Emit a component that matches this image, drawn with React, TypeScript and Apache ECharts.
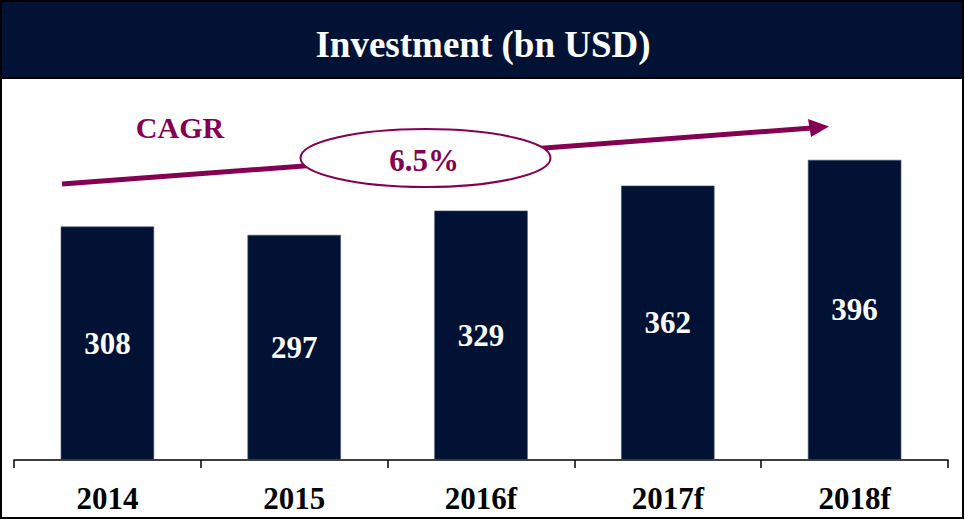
import React, { useEffect, useRef } from "react";
import * as echarts from "echarts";

const categories = ["2014", "2015", "2016f", "2017f", "2018f"];
const investment = [308, 297, 329, 362, 396];
const titleText = "Investment (bn USD)";
const cagrLabel = "CAGR";
const cagrValue = "6.5%";

const NAVY = "#011235";
const MAROON = "#850052";
const SERIF = "'Liberation Serif', 'Times New Roman', serif";

export default function App() {
  const ref = useRef<HTMLDivElement>(null);
  useEffect(() => {
    document.body.style.margin = "0";
    const chart = echarts.init(ref.current!, null, { renderer: "svg" });
    chart.setOption({
      animation: false,
      backgroundColor: "#ffffff",
      grid: { left: 14, right: 17, top: 81, bottom: 60 },
      xAxis: {
        type: "category",
        data: categories,
        axisLine: { lineStyle: { color: "#000", width: 1.5 } },
        axisTick: { show: true, length: 8, lineStyle: { color: "#000", width: 1.5 } },
        axisLabel: {
          color: "#000",
          fontFamily: SERIF,
          fontWeight: "bold",
          fontSize: 31,
          margin: 23,
        },
      },
      yAxis: { type: "value", min: 0, max: 500, show: false, splitLine: { show: false } },
      series: [
        {
          type: "bar",
          data: investment,
          barWidth: "50%",
          itemStyle: { color: NAVY, borderColor: "#4a5672", borderWidth: 0.6 },
          label: {
            show: true,
            position: "inside",
            color: "#fff",
            fontFamily: SERIF,
            fontWeight: "bold",
            fontSize: 31,
          },
        },
      ],
      graphic: [
        {
          type: "rect",
          shape: { x: 1, y: 1, width: 962, height: 77 },
          style: { fill: NAVY, stroke: "#000", lineWidth: 2 },
          z: 10,
        },
        {
          type: "text",
          x: 483,
          y: 44,
          style: {
            text: titleText,
            fill: "#fff",
            font: `bold 37px ${SERIF}`,
            align: "center",
            verticalAlign: "middle",
          },
          z: 11,
        },
        {
          type: "rect",
          shape: { x: 1, y: 1, width: 962, height: 517 },
          style: { fill: "none", stroke: "#000", lineWidth: 2 },
          z: 12,
        },
        {
          type: "text",
          x: 180,
          y: 127,
          style: {
            text: cagrLabel,
            fill: MAROON,
            font: `bold 30px ${SERIF}`,
            align: "center",
            verticalAlign: "middle",
          },
          z: 10,
        },
        {
          type: "line",
          shape: { x1: 62, y1: 184, x2: 812, y2: 128 },
          style: { stroke: MAROON, lineWidth: 5 },
          z: 10,
        },
        {
          type: "polygon",
          shape: { points: [[808, 119], [829, 126.5], [811, 137]] },
          style: { fill: MAROON },
          z: 10,
        },
        {
          type: "ellipse",
          shape: { cx: 425.5, cy: 158, rx: 125, ry: 29 },
          style: { fill: "#fff", stroke: MAROON, lineWidth: 2 },
          z: 11,
        },
        {
          type: "text",
          x: 424,
          y: 160,
          style: {
            text: cagrValue,
            fill: MAROON,
            font: `bold 31px ${SERIF}`,
            align: "center",
            verticalAlign: "middle",
          },
          z: 12,
        },
      ],
    });
    return () => chart.dispose();
  }, []);
  return <div ref={ref} style={{ width: 965, height: 520 }} />;
}
